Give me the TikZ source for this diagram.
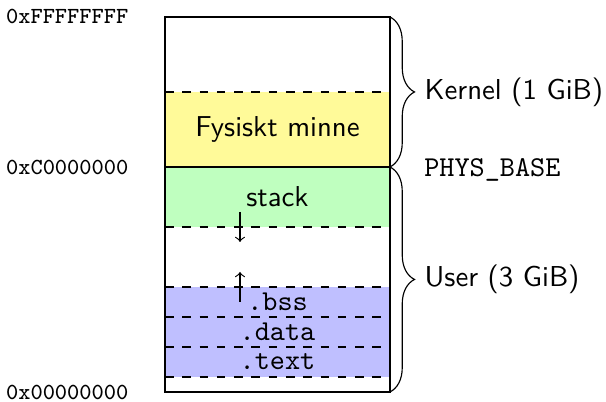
\documentclass[tikz,border=0pt]{standalone}
\usepackage{tikz}
\usetikzlibrary{decorations.pathreplacing, positioning}

\begin{document}
\begin{tikzpicture}[
    x=0.183cm, y=0.183cm,
    addr/.style={anchor=east, inner sep=0pt, font=\ttfamily\footnotesize},
    region/.style={font=\sffamily},
    section/.style={font=\ttfamily},
    sep/.style={dashed},
    span/.style={decorate, decoration={brace, amplitude=8.5pt}}
]
    \useasboundingbox (-11,-0.667) rectangle (29.4,26.13);

    % fills
    \fill[yellow!40] (0,15) rectangle (15,20);
    \fill[green!25] (0,11) rectangle (15,15);
    \fill[blue!25] (0,1) rectangle (15,7);

    % borders between areas
    \draw[sep] (0,20) -- (15,20);
    \draw[sep] (0,11) -- (15,11);
    \draw[sep] (0,7) -- (15,7);
    \draw[sep] (0,5) -- (15,5);
    \draw[sep] (0,3) -- (15,3);
    \draw[sep] (0,1) -- (15,1);
    \draw (0,0) rectangle (15,25);
    \draw[thick] (0,15) -- (15,15);

    % contents
    \node[region] (phys) at (7.5,17.5) {Fysiskt minne};
    \node[region] (stack) at (7.5,13) {stack};
    \node[section] (bss) at (7.5,6) {.bss};
    \node[section] (data) at (7.5,4) {.data};
    \node[section] (text) at (7.5,2) {.text};

    \coordinate (stackfrom) at (5,12);
    \coordinate (stackto) at (5,10);
    \coordinate (heapfrom) at (5,6);
    \coordinate (heapto) at (5,8);
    \draw[->] (stackfrom) -- (stackto);
    \draw[->] (heapfrom) -- (heapto);

    % addresses
    \node[addr] (top) at (-2.4,25) {0xFFFFFFFF};
    \node[addr] (mid) at (-2.4,15) {0xC0000000};
    \node[addr] (bottom) at (-2.4,0) {0x00000000};
    \node[anchor=west, inner sep=0pt, font=\ttfamily] (physbase) at (17.25,14.8) {PHYS\_BASE};

    % braces
    \draw[span] (15,25) -- (15,15) node[midway, right=8.5pt, font=\sffamily] (kernel) {Kernel (1 GiB)};
    \draw[span] (15,15) -- (15,0) node[midway, right=8.5pt, font=\sffamily] (user) {User (3 GiB)};

\end{tikzpicture}
\end{document}
